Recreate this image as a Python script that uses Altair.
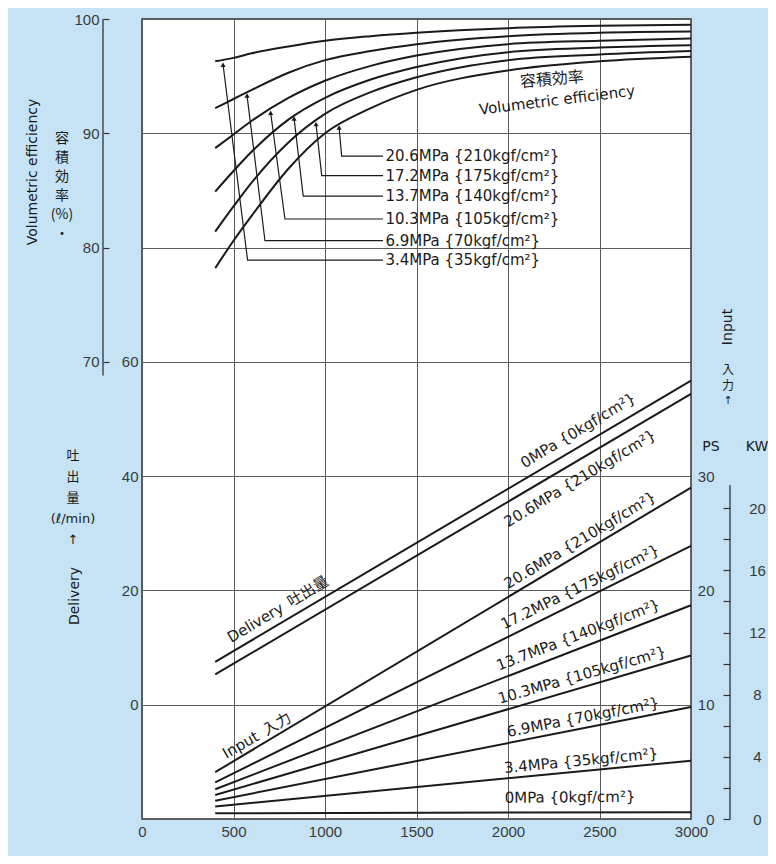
import altair as alt
import pandas as pd

# ---------------- data ----------------
rpm_eff = [400, 500, 600, 800, 1000, 1250, 1500, 2000, 2500, 3000]
eff_names = ["3.4MPa", "6.9MPa", "10.3MPa", "13.7MPa", "17.2MPa", "20.6MPa"]
eff_3_4 = [96.3, 96.6, 97.0, 97.6, 98.1, 98.5, 98.8, 99.2, 99.4, 99.5]
eff_6_9 = [92.2, 93.0, 93.8, 95.3, 96.4, 97.2, 97.8, 98.5, 98.8, 98.9]
eff_10_3 = [88.7, 89.9, 91.1, 93.1, 94.6, 95.9, 96.8, 97.8, 98.1, 98.3]
eff_13_7 = [84.9, 86.7, 88.4, 91.2, 93.1, 94.7, 95.8, 97.1, 97.5, 97.7]
eff_17_2 = [81.4, 83.6, 85.7, 89.2, 91.7, 93.6, 94.9, 96.4, 96.9, 97.2]
eff_20_6 = [78.2, 80.6, 82.8, 86.9, 90.0, 92.2, 93.8, 95.5, 96.3, 96.7]

eff_labels = ["3.4MPa {35kgf/cm²}", "6.9MPa {70kgf/cm²}", "10.3MPa {105kgf/cm²}",
              "13.7MPa {140kgf/cm²}", "17.2MPa {175kgf/cm²}", "20.6MPa {210kgf/cm²}"]

rpm_line = [400, 3000]
delivery_names = ["0MPa", "20.6MPa"]
delivery_0 = [7.5, 56.7]
delivery_20_6 = [5.3, 54.4]

input_names = ["0MPa", "3.4MPa", "6.9MPa", "10.3MPa", "13.7MPa", "17.2MPa", "20.6MPa"]
input_0 = [0.5, 0.6]
input_3_4 = [1.1, 5.1]
input_6_9 = [1.6, 9.8]
input_10_3 = [2.1, 14.3]
input_13_7 = [2.6, 18.7]
input_17_2 = [3.2, 23.9]
input_20_6 = [4.1, 29.0]

delivery_texts = ["0MPa {0kgf/cm²}", "20.6MPa {210kgf/cm²}", "Delivery\u2002吐出量"]
input_texts = ["20.6MPa {210kgf/cm²}", "17.2MPa {175kgf/cm²}", "13.7MPa {140kgf/cm²}",
               "10.3MPa {105kgf/cm²}", "6.9MPa {70kgf/cm²}", "3.4MPa {35kgf/cm²}",
               "0MPa {0kgf/cm²}", "Input\u2002入力"]

x_ticks = [0, 500, 1000, 1500, 2000, 2500, 3000]
eff_ticks = [70, 80, 90, 100]
delivery_ticks = [-20, 0, 20, 40, 60, 80, 100, 120]
ps_ticks = [0, 10, 20, 30]
kw_ticks = [0, 2, 4, 6, 8, 10, 12, 14, 16, 18, 20]
PS_PER_KW = 1.3596

# ---------------- annotation anchors (data coordinates) ----------------
ann = {
    "eff_label_rpm": 1330,
    "leader_end_rpm": 1317,
    "eff_label_y": [78.9, 80.6, 82.5, 84.5, 86.3, 88.0],
    "leader_corner_rpm": [577, 672, 781, 881, 982, 1091],
    "tip_rpm": [443, 574, 703, 831, 951, 1077],
    "tip_eff": [96.0, 93.3, 91.8, 91.3, 90.8, 90.5],
    "vol_jp": (2240, 94.7, 355),
    "vol_en": (2268, 92.9, 353),
    "del_text_rpm": [2383, 2393, 743],
    "del_text_y": [48.0, 39.6, 16.7],
    "del_text_ang": [329, 329, 329],
    "in_text_rpm": [2393, 2393, 2383, 2404, 2410, 2399, 2339, 628],
    "in_text_y": [24.4, 20.3, 16.1, 12.6, 8.9, 5.1, 1.9, 7.3],
    "in_text_ang": [329, 334, 339, 344, 349, 354.5, 359.5, 330],
    "eff_axis_line": (100, 68.8),
    "kw_axis_line": (0, 21.5),
}

# ---------------- styles ----------------
NUM_FONT = "Liberation Sans, sans-serif"
TXT_FONT = "DejaVu Sans, Noto Sans CJK JP, sans-serif"
CJK_FONT = "Noto Sans CJK JP, sans-serif"
INK = "#1a1a1a"
GRID = "#5a5a5a"
LBL = "#3a3a3a"
BG = "#c5e3f5"
W, H = 549, 800

x_axis = alt.Axis(values=x_ticks, format="d", grid=True, gridColor=GRID, gridWidth=1, ticks=False,
                  domain=False, labelFont=NUM_FONT, labelFontSize=15, labelColor=LBL,
                  labelPadding=5, title=None, labelFlush=False)


def xs(field):
    return alt.X(field, type="quantitative", scale=alt.Scale(domain=[0, 3000], nice=False), axis=x_axis)


eff_axis = alt.Axis(orient="left", offset=33, values=eff_ticks, grid=False, ticks=True, tickSize=6,
                    tickColor="#333", tickWidth=1.2, domain=False, labelFont=NUM_FONT, labelFontSize=15,
                    labelColor=LBL, labelPadding=4, title=None)
del_axis = alt.Axis(orient="left", offset=0, values=delivery_ticks, grid=True, gridColor=GRID, gridWidth=1,
                    ticks=False, domain=False, labelFont=NUM_FONT, labelFontSize=15, labelColor=LBL,
                    labelPadding=4, title=None,
                    labelExpr="datum.value >= 0 && datum.value <= 60 ? datum.label : ''")
ps_axis = alt.Axis(orient="right", offset=0, values=ps_ticks, grid=False, ticks=False, domain=False,
                   labelFont=NUM_FONT, labelFontSize=15, labelColor=LBL, labelAlign="right",
                   labelPadding=23, title=None)
kw_axis = alt.Axis(orient="right", offset=32, values=kw_ticks, grid=False, ticks=True, tickSize=7,
                   tickColor="#333", tickWidth=1.2, domain=False, labelFont=NUM_FONT, labelFontSize=15,
                   labelColor=LBL, labelAlign="center", labelPadding=27, title=None,
                   labelExpr="datum.value % 4 == 0 ? datum.label : ''")


def ys(field, domain, axis):
    return alt.Y(field, type="quantitative", scale=alt.Scale(domain=domain, nice=False, zero=False), axis=axis)


def eff_y(f):
    return ys(f, [30, 100], eff_axis)


def del_y(f):
    return ys(f, [-20, 120], del_axis)


def ps_y(f):
    return ys(f, [0, 70], ps_axis)


def kw_y(f):
    return ys(f, [0, 70 / PS_PER_KW], kw_axis)


# ---------------- efficiency group ----------------
eff_series = [eff_3_4, eff_6_9, eff_10_3, eff_13_7, eff_17_2, eff_20_6]
eff_df = pd.DataFrame([{"rpm": r, "v": v, "curve": n}
                       for n, vals in zip(eff_names, eff_series) for r, v in zip(rpm_eff, vals)])
eff_lines = alt.Chart(eff_df).mark_line(interpolate="monotone", color=INK, strokeWidth=2).encode(
    x=xs("rpm"), y=eff_y("v"), detail="curve:N")

leader_rows = []
for i in range(len(eff_names)):
    pts = [(ann["leader_end_rpm"], ann["eff_label_y"][i]),
           (ann["leader_corner_rpm"][i], ann["eff_label_y"][i]),
           (ann["tip_rpm"][i], ann["tip_eff"][i])]
    for k, (r, v) in enumerate(pts):
        leader_rows.append({"rpm": r, "v": v, "id": i, "ord": k})
leaders = alt.Chart(pd.DataFrame(leader_rows)).mark_line(color=INK, strokeWidth=1.2).encode(
    x=xs("rpm"), y=eff_y("v"), detail="id:N", order="ord:Q")

tips = alt.Chart(pd.DataFrame({"rpm": ann["tip_rpm"], "v": ann["tip_eff"]})).mark_point(
    shape="triangle-up", filled=True, size=26, color=INK, opacity=1).encode(x=xs("rpm"), y=eff_y("v"))

eff_text = alt.Chart(pd.DataFrame({"rpm": [ann["eff_label_rpm"]] * 6, "v": ann["eff_label_y"],
                                   "t": eff_labels})).mark_text(
    align="left", baseline="middle", font=TXT_FONT, fontSize=15, color=INK).encode(
    x=xs("rpm"), y=eff_y("v"), text="t:N")

r, v, a = ann["vol_jp"]
vol_jp = alt.Chart(pd.DataFrame({"rpm": [r], "v": [v], "t": ["容積効率"]})).mark_text(
    font=CJK_FONT, fontSize=16, angle=a, color=INK).encode(x=xs("rpm"), y=eff_y("v"), text="t:N")
r, v, a = ann["vol_en"]
vol_en = alt.Chart(pd.DataFrame({"rpm": [r], "v": [v], "t": ["Volumetric efficiency"]})).mark_text(
    font=TXT_FONT, fontSize=15, angle=a, color=INK).encode(x=xs("rpm"), y=eff_y("v"), text="t:N")

t0, t1 = ann["eff_axis_line"]
eff_axis_line = alt.Chart(pd.DataFrame({"a": [t0], "b": [t1]})).mark_rule(
    color="#333", strokeWidth=1.3).encode(x=alt.value(-39), y=eff_y("a"), y2="b:Q")

eff_group = alt.layer(eff_lines, leaders, tips, eff_text, vol_jp, vol_en, eff_axis_line)

# ---------------- delivery group ----------------
del_df = pd.DataFrame([{"rpm": r, "v": v, "line": n}
                       for n, vals in zip(delivery_names, [delivery_0, delivery_20_6])
                       for r, v in zip(rpm_line, vals)])
del_lines = alt.Chart(del_df).mark_line(color=INK, strokeWidth=2).encode(
    x=xs("rpm"), y=del_y("v"), detail="line:N")
del_text = alt.Chart(pd.DataFrame({"rpm": ann["del_text_rpm"], "v": ann["del_text_y"],
                                   "t": delivery_texts, "ang": ann["del_text_ang"]})).mark_text(
    font=TXT_FONT, fontSize=15, color=INK).encode(
    x=xs("rpm"), y=del_y("v"), text="t:N", angle=alt.Angle("ang:Q", scale=None))
del_group = alt.layer(del_lines, del_text)

# ---------------- input (PS) group ----------------
in_series = [input_0, input_3_4, input_6_9, input_10_3, input_13_7, input_17_2, input_20_6]
in_df = pd.DataFrame([{"rpm": r, "v": v, "line": n}
                      for n, vals in zip(input_names, in_series) for r, v in zip(rpm_line, vals)])
in_lines = alt.Chart(in_df).mark_line(color=INK, strokeWidth=2).encode(
    x=xs("rpm"), y=ps_y("v"), detail="line:N")
in_text = alt.Chart(pd.DataFrame({"rpm": ann["in_text_rpm"], "v": ann["in_text_y"],
                                  "t": input_texts, "ang": ann["in_text_ang"]})).mark_text(
    font=TXT_FONT, fontSize=15, color=INK).encode(
    x=xs("rpm"), y=ps_y("v"), text="t:N", angle=alt.Angle("ang:Q", scale=None))
ps_group = alt.layer(in_lines, in_text)

# ---------------- kW axis group ----------------
k0, k1 = ann["kw_axis_line"]
kw_group = alt.Chart(pd.DataFrame({"a": [k0], "b": [k1]})).mark_rule(
    color="#333", strokeWidth=1.3).encode(x=alt.value(588), y=kw_y("a"), y2="b:Q")


# ---------------- titles (pixel positions) ----------------
def title(txt, px, py, angle=0, font=TXT_FONT, size=14, baseline="middle", line_height=None):
    kw = dict(font=font, fontSize=size, color=INK, angle=angle, baseline=baseline, align="center")
    if line_height:
        kw.update(lineBreak="\n", lineHeight=line_height)
    return alt.Chart(pd.DataFrame({"t": [txt]})).mark_text(**kw).encode(
        x=alt.value(px), y=alt.value(py), text="t:N")


titles = [
    title("Volumetric efficiency", -109, 153, angle=270),
    title("容\n積\n効\n率\n(%)\n・", -80, 113, font=CJK_FONT, size=14, baseline="top", line_height=19),
    title("吐\n出\n量\n(ℓ/min)\n↑", -69, 431, font=TXT_FONT, size=13, baseline="top", line_height=21),
    title("Delivery", -67, 577, angle=270),
    title("Input", 586, 308, angle=270),
    title("入", 586, 351, font=CJK_FONT, size=12),
    title("力", 586, 367, font=CJK_FONT, size=12),
    title("↑", 586, 382, font=TXT_FONT, size=11),
    title("PS", 569, 428, font=TXT_FONT, size=14),
    title("KW", 615, 428, font=TXT_FONT, size=14),
]

chart = alt.layer(eff_group, del_group, ps_group, kw_group, *titles).resolve_scale(
    y="independent").properties(
    width=W, height=H, background=BG,
    padding={"left": 134, "top": 11, "right": 77, "bottom": 37},
    autosize=alt.AutoSizeParams(type="none")).configure_view(
    fill="white", stroke="#333", strokeWidth=1.5)

chart.save("out.html", embed_options={"renderer": "svg", "actions": False})
